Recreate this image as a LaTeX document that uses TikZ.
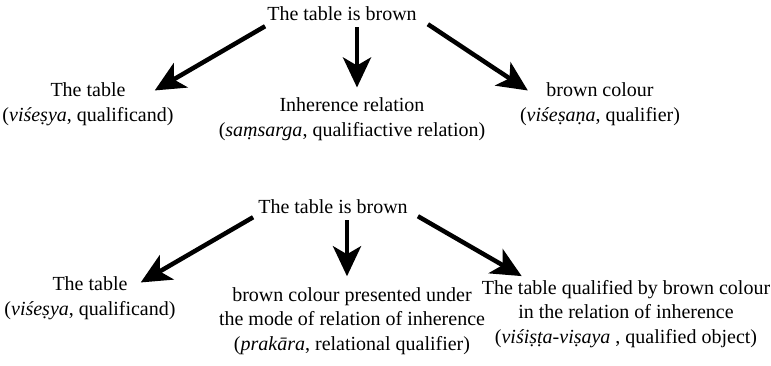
\documentclass[tikz,border=0pt]{standalone}
\usepackage{fontspec}
\setmainfont{Liberation Serif}
\usetikzlibrary{arrows.meta}

\begin{document}
\begin{tikzpicture}[x=1pt,y=-1pt,
    txt/.style={font=\fontsize{20}{24.5}\selectfont, align=center, inner sep=0pt},
    bigarrow/.style={line width=4.5pt, -{Stealth[length=30pt,width=28pt,inset=8pt]}}]
  \useasboundingbox (0,0) rectangle (771,365);

  % first analysis
  \node[txt] (brownA) at (342,14) {The table is brown};
  \node[txt] (tableA) at (88,104) {The table\\(\emph{viśeṣya}, qualificand)};
  \node[txt] (relA) at (352,119) {Inherence relation\\(\emph{saṃsarga}, qualifiactive relation)};
  \node[txt] (colourA) at (600,104) {brown colour\\(\emph{viśeṣaṇa}, qualifier)};

  \draw[bigarrow] ([shift={(-2,5)}]brownA.south west) -- ([shift={(-19,8)}]tableA.north east);
  \draw[bigarrow] ([shift={(15,6)}]brownA.south) -- ([shift={(5,-10)}]relA.north);
  \draw[bigarrow] ([shift={(11,3)}]brownA.south east) -- ([shift={(8,8)}]colourA.north west);

  % second analysis
  \node[txt] (brownB) at (333,207) {The table is brown};
  \node[txt] (tableB) at (90,298) {The table\\(\emph{viśeṣya}, qualificand)};
  \node[txt] (modeB) at (352,321) {brown colour presented under\\the mode of relation of inherence\\(\emph{prakāra}, relational qualifier)};
  \node[txt] (qualB) at (626,314) {The table qualified by brown colour\\in the relation of inherence\\(\emph{viśiṣṭa-viṣaya} , qualified object)};

  \draw[bigarrow] ([shift={(-5,3)}]brownB.south west) -- ([shift={(-35,6)}]tableB.north east);
  \draw[bigarrow] ([shift={(14,6)}]brownB.south) -- ([shift={(-5,-11)}]modeB.north);
  \draw[bigarrow] ([shift={(10,2)}]brownB.south east) -- ([shift={(40,-4)}]qualB.north west);
\end{tikzpicture}
\end{document}
